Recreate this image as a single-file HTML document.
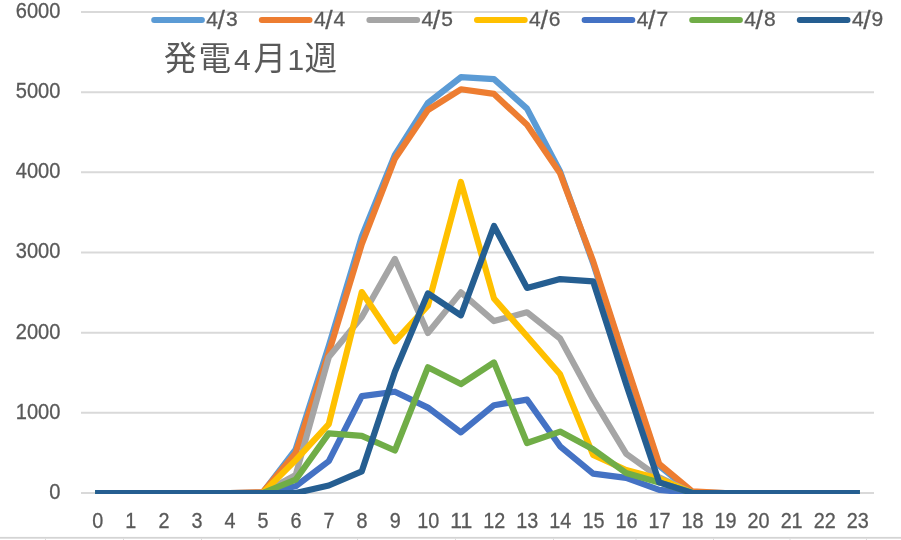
<!DOCTYPE html>
<html lang="ja">
<head>
<meta charset="utf-8">
<title>発電4月1週</title>
<style>
html,body{margin:0;padding:0;background:#fff;}
body{width:901px;height:540px;overflow:hidden;}
svg{display:block;}
text{font-family:"Liberation Sans","Noto Sans CJK JP",sans-serif;fill:#595959;}
.ax{stroke:#595959;stroke-width:0.3px;}
.ax{font-size:21.4px;}
.ttl{font-size:32.6px;font-weight:400;}
.ttl .d{font-size:30px;}
</style>
</head>
<body>
<svg width="901" height="540" viewBox="0 0 901 540">
<rect x="0" y="0" width="901" height="540" fill="#ffffff"/>
<defs><clipPath id="plot"><rect x="70" y="0" width="820" height="494"/></clipPath></defs>

<g stroke="#D9D9D9" stroke-width="2" fill="none">
<line x1="81" y1="493.00" x2="874" y2="493.00"/>
<line x1="81" y1="412.83" x2="874" y2="412.83"/>
<line x1="81" y1="332.66" x2="874" y2="332.66"/>
<line x1="81" y1="252.49" x2="874" y2="252.49"/>
<line x1="81" y1="172.32" x2="874" y2="172.32"/>
<line x1="81" y1="92.15" x2="874" y2="92.15"/>
<line x1="81" y1="11.98" x2="874" y2="11.98"/>
</g>
<g class="ax" text-anchor="end">
<text x="60.4" y="498.90" textLength="11.2" lengthAdjust="spacingAndGlyphs">0</text>
<text x="60.4" y="418.73" textLength="44.6" lengthAdjust="spacingAndGlyphs">1000</text>
<text x="60.4" y="338.56" textLength="44.6" lengthAdjust="spacingAndGlyphs">2000</text>
<text x="60.4" y="258.39" textLength="44.6" lengthAdjust="spacingAndGlyphs">3000</text>
<text x="60.4" y="178.22" textLength="44.6" lengthAdjust="spacingAndGlyphs">4000</text>
<text x="60.4" y="98.05" textLength="44.6" lengthAdjust="spacingAndGlyphs">5000</text>
<text x="60.4" y="17.88" textLength="44.6" lengthAdjust="spacingAndGlyphs">6000</text>
</g>
<g class="ax" text-anchor="middle">
<text x="97.80" y="527.7" textLength="11.0" lengthAdjust="spacingAndGlyphs">0</text>
<text x="130.84" y="527.7" textLength="11.0" lengthAdjust="spacingAndGlyphs">1</text>
<text x="163.88" y="527.7" textLength="11.0" lengthAdjust="spacingAndGlyphs">2</text>
<text x="196.92" y="527.7" textLength="11.0" lengthAdjust="spacingAndGlyphs">3</text>
<text x="229.96" y="527.7" textLength="11.0" lengthAdjust="spacingAndGlyphs">4</text>
<text x="263.00" y="527.7" textLength="11.0" lengthAdjust="spacingAndGlyphs">5</text>
<text x="296.04" y="527.7" textLength="11.0" lengthAdjust="spacingAndGlyphs">6</text>
<text x="329.08" y="527.7" textLength="11.0" lengthAdjust="spacingAndGlyphs">7</text>
<text x="362.12" y="527.7" textLength="11.0" lengthAdjust="spacingAndGlyphs">8</text>
<text x="395.16" y="527.7" textLength="11.0" lengthAdjust="spacingAndGlyphs">9</text>
<text x="428.20" y="527.7" textLength="22.0" lengthAdjust="spacingAndGlyphs">10</text>
<text x="461.24" y="527.7" textLength="22.0" lengthAdjust="spacingAndGlyphs">11</text>
<text x="494.28" y="527.7" textLength="22.0" lengthAdjust="spacingAndGlyphs">12</text>
<text x="527.32" y="527.7" textLength="22.0" lengthAdjust="spacingAndGlyphs">13</text>
<text x="560.36" y="527.7" textLength="22.0" lengthAdjust="spacingAndGlyphs">14</text>
<text x="593.40" y="527.7" textLength="22.0" lengthAdjust="spacingAndGlyphs">15</text>
<text x="626.44" y="527.7" textLength="22.0" lengthAdjust="spacingAndGlyphs">16</text>
<text x="659.48" y="527.7" textLength="22.0" lengthAdjust="spacingAndGlyphs">17</text>
<text x="692.52" y="527.7" textLength="22.0" lengthAdjust="spacingAndGlyphs">18</text>
<text x="725.56" y="527.7" textLength="22.0" lengthAdjust="spacingAndGlyphs">19</text>
<text x="758.60" y="527.7" textLength="22.0" lengthAdjust="spacingAndGlyphs">20</text>
<text x="791.64" y="527.7" textLength="22.0" lengthAdjust="spacingAndGlyphs">21</text>
<text x="824.68" y="527.7" textLength="22.0" lengthAdjust="spacingAndGlyphs">22</text>
<text x="857.72" y="527.7" textLength="22.0" lengthAdjust="spacingAndGlyphs">23</text>
</g>
<g fill="none" stroke-width="6.2" stroke-linejoin="round" stroke-linecap="butt" clip-path="url(#plot)">
<polyline stroke="#5B9BD5" points="95.1,493.0 97.5,493.0 130.5,493.0 163.6,493.0 196.6,493.0 229.7,493.0 262.7,492.6 295.7,449.3 328.8,345.9 361.8,236.5 394.9,155.0 427.9,103.0 460.9,77.2 494.0,79.1 527.0,108.6 560.1,171.5 593.1,263.1 626.1,365.5 659.2,465.9 692.2,492.4 725.3,493.0 758.3,493.0 791.3,493.0 824.4,493.0 857.4,493.0 859.9,493.0"/>
<polyline stroke="#ED7D31" points="95.1,493.0 97.5,493.0 130.5,493.0 163.6,493.0 196.6,493.0 229.7,493.0 262.7,492.2 295.7,452.9 328.8,352.7 361.8,244.1 394.9,158.7 427.9,110.0 460.9,89.3 494.0,93.9 527.0,124.8 560.1,173.3 593.1,261.1 626.1,363.5 659.2,463.9 692.2,491.4 725.3,493.0 758.3,493.0 791.3,493.0 824.4,493.0 857.4,493.0 859.9,493.0"/>
<polyline stroke="#A5A5A5" points="95.1,493.0 97.5,493.0 130.5,493.0 163.6,493.0 196.6,493.0 229.7,493.0 262.7,493.0 295.7,475.0 328.8,357.1 361.8,317.0 394.9,258.9 427.9,333.0 460.9,292.4 494.0,321.1 527.0,312.3 560.1,338.5 593.1,399.2 626.1,453.7 659.2,477.4 692.2,492.8 725.3,493.0 758.3,493.0 791.3,493.0 824.4,493.0 857.4,493.0 859.9,493.0"/>
<polyline stroke="#FFC000" points="95.1,493.0 97.5,493.0 130.5,493.0 163.6,493.0 196.6,493.0 229.7,493.0 262.7,493.0 295.7,460.1 328.8,424.1 361.8,292.1 394.9,341.3 427.9,305.6 460.9,182.0 494.0,298.5 527.0,336.3 560.1,374.3 593.1,454.9 626.1,470.0 659.2,478.7 692.2,492.8 725.3,493.0 758.3,493.0 791.3,493.0 824.4,493.0 857.4,493.0 859.9,493.0"/>
<polyline stroke="#4472C4" points="95.1,493.0 97.5,493.0 130.5,493.0 163.6,493.0 196.6,493.0 229.7,493.0 262.7,493.0 295.7,486.2 328.8,461.1 361.8,396.1 394.9,391.7 427.9,407.6 460.9,432.4 494.0,405.2 527.0,399.6 560.1,446.3 593.1,473.7 626.1,477.8 659.2,489.8 692.2,493.0 725.3,493.0 758.3,493.0 791.3,493.0 824.4,493.0 857.4,493.0 859.9,493.0"/>
<polyline stroke="#70AD47" points="95.1,493.0 97.5,493.0 130.5,493.0 163.6,493.0 196.6,493.0 229.7,493.0 262.7,493.0 295.7,479.6 328.8,433.4 361.8,435.8 394.9,450.5 427.9,367.3 460.9,384.1 494.0,362.4 527.0,443.0 560.1,431.6 593.1,449.3 626.1,473.1 659.2,482.4 692.2,492.8 725.3,493.0 758.3,493.0 791.3,493.0 824.4,493.0 857.4,493.0 859.9,493.0"/>
<polyline stroke="#255E91" points="95.1,493.0 97.5,493.0 130.5,493.0 163.6,493.0 196.6,493.0 229.7,493.0 262.7,493.0 295.7,493.0 328.8,485.5 361.8,471.3 394.9,371.8 427.9,293.4 460.9,315.3 494.0,226.0 527.0,287.9 560.1,279.1 593.1,281.4 626.1,384.1 659.2,482.4 692.2,493.0 725.3,493.0 758.3,493.0 791.3,493.0 824.4,493.0 857.4,493.0 859.9,493.0"/>
</g>
<g class="ax">
<line x1="154.2" y1="20" x2="201.9" y2="20" stroke="#5B9BD5" stroke-width="6" stroke-linecap="round"/>
<text style="font-size:21px"><tspan x="206.3" y="25.7">4</tspan><tspan x="217.6" y="28.7" style="font-size:26.5px">/</tspan><tspan x="226.0" y="25.7">3</tspan></text>
<line x1="261.8" y1="20" x2="309.5" y2="20" stroke="#ED7D31" stroke-width="6" stroke-linecap="round"/>
<text style="font-size:21px"><tspan x="313.9" y="25.7">4</tspan><tspan x="325.2" y="28.7" style="font-size:26.5px">/</tspan><tspan x="333.6" y="25.7">4</tspan></text>
<line x1="369.4" y1="20" x2="417.1" y2="20" stroke="#A5A5A5" stroke-width="6" stroke-linecap="round"/>
<text style="font-size:21px"><tspan x="421.5" y="25.7">4</tspan><tspan x="432.8" y="28.7" style="font-size:26.5px">/</tspan><tspan x="441.2" y="25.7">5</tspan></text>
<line x1="477.0" y1="20" x2="524.7" y2="20" stroke="#FFC000" stroke-width="6" stroke-linecap="round"/>
<text style="font-size:21px"><tspan x="529.1" y="25.7">4</tspan><tspan x="540.4" y="28.7" style="font-size:26.5px">/</tspan><tspan x="548.8" y="25.7">6</tspan></text>
<line x1="584.6" y1="20" x2="632.3" y2="20" stroke="#4472C4" stroke-width="6" stroke-linecap="round"/>
<text style="font-size:21px"><tspan x="636.7" y="25.7">4</tspan><tspan x="648.0" y="28.7" style="font-size:26.5px">/</tspan><tspan x="656.4" y="25.7">7</tspan></text>
<line x1="692.2" y1="20" x2="739.9" y2="20" stroke="#70AD47" stroke-width="6" stroke-linecap="round"/>
<text style="font-size:21px"><tspan x="744.3" y="25.7">4</tspan><tspan x="755.6" y="28.7" style="font-size:26.5px">/</tspan><tspan x="764.0" y="25.7">8</tspan></text>
<line x1="799.8" y1="20" x2="847.5" y2="20" stroke="#255E91" stroke-width="6" stroke-linecap="round"/>
<text style="font-size:21px"><tspan x="851.9" y="25.7">4</tspan><tspan x="863.2" y="28.7" style="font-size:26.5px">/</tspan><tspan x="871.6" y="25.7">9</tspan></text>
</g>
<text class="ttl" y="69.6"><tspan x="163.9">発</tspan><tspan x="198.4">電</tspan><tspan class="d" x="233.9" y="70">4</tspan><tspan x="253.4" y="69.6">月</tspan><tspan class="d" x="287.6" y="70">1</tspan><tspan x="304.6" y="69.6">週</tspan></text>
<rect x="0" y="536.9" width="901" height="1.8" fill="#D4D4D4"/>
<g fill="#DADADA">
<rect x="45.0" y="538.6" width="1" height="1.4"/>
<rect x="123.0" y="538.6" width="1" height="1.4"/>
<rect x="201.0" y="538.6" width="1" height="1.4"/>
<rect x="279.0" y="538.6" width="1" height="1.4"/>
<rect x="357.0" y="538.6" width="1" height="1.4"/>
<rect x="455.0" y="538.6" width="1" height="1.4"/>
<rect x="553.0" y="538.6" width="1" height="1.4"/>
<rect x="635.5" y="538.6" width="1" height="1.4"/>
<rect x="713.0" y="538.6" width="1" height="1.4"/>
<rect x="789.5" y="538.6" width="1" height="1.4"/>
<rect x="866.0" y="538.6" width="1" height="1.4"/>
</g>
</svg>
</body>
</html>
